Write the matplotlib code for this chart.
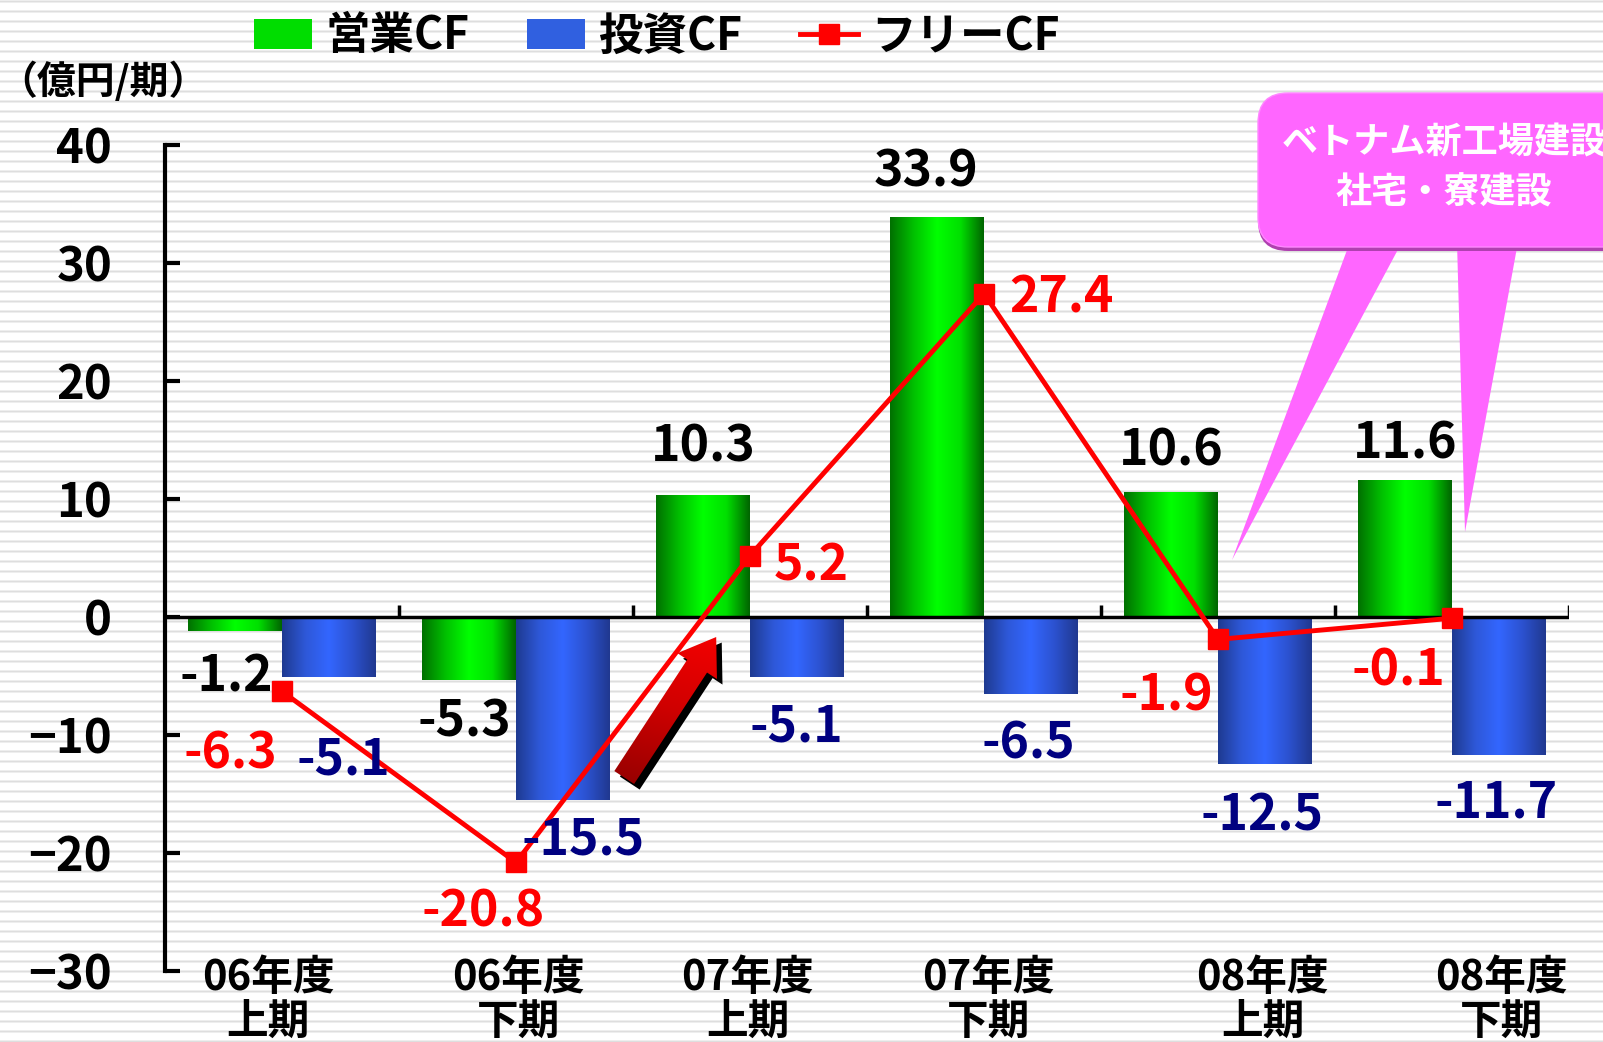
import numpy as np
import matplotlib
matplotlib.use('Agg')
import matplotlib.pyplot as plt
from matplotlib.colors import LinearSegmentedColormap
from matplotlib.patches import Patch, FancyBboxPatch, Polygon, FancyArrowPatch
from matplotlib.lines import Line2D
import matplotlib.patheffects as pe

plt.rcParams['font.family'] = ['Noto Sans CJK JP', 'DejaVu Sans']
plt.rcParams['font.weight'] = 'bold'

# data
periods_top = ['06年度', '06年度', '07年度', '07年度', '08年度', '08年度']
periods_bottom = ['上期', '下期', '上期', '下期', '上期', '下期']
eigyo_cf = [-1.2, -5.3, 10.3, 33.9, 10.6, 11.6]
toshi_cf = [-5.1, -15.5, -5.1, -6.5, -12.5, -11.7]
free_cf = [-6.3, -20.8, 5.2, 27.4, -1.9, -0.1]

# label nudges (data units)
eigyo_off = [(-0.04, -3.9), (-0.02, -3.6), (0.0, 4.1), (-0.05, 3.8), (0.0, 3.5), (0.0, 3.1)]
toshi_off = [(0.06, -7.0), (0.085, -3.4), (0.0, -4.2), (-0.01, -4.3), (-0.01, -4.4), (-0.01, -4.1)]
free_off = [(-0.22, -5.35), (-0.14, -4.16), (0.26, -0.85), (0.33, -0.36), (-0.22, -4.8), (-0.23, -4.5)]
cat_label_off = [-0.06, 0.01, -0.01, 0.02, 0.19, 0.21]

x = np.arange(len(eigyo_cf))
W, H = 1603, 1042
fig = plt.figure(figsize=(W / 100, H / 100), dpi=100)
fig.patch.set_facecolor('white')

# striped background
rows = np.arange(H) % 10
shade = np.ones(H)
shade[rows == 0] = 0.93
shade[rows == 1] = 0.87
shade[rows == 2] = 0.93
bg = np.repeat(shade[:, None], W, axis=1)
fig.figimage(bg, xo=0, yo=0, cmap='gray', vmin=0, vmax=1, zorder=-1)

ax = fig.add_axes([165 / W, 71 / H, (1569 - 165) / W, (971 - 145) / H])
ax.set_facecolor('none')
ax.set_zorder(1)

green_cmap = LinearSegmentedColormap.from_list('g', ['#007000', '#00c000', '#00ff00', '#00e000', '#006400'])
blue_cmap = LinearSegmentedColormap.from_list('b', ['#1e3a90', '#2e58d8', '#3366ff', '#2c52d0', '#20388f'])
red_cmap = LinearSegmentedColormap.from_list('r', ['#8a0000', '#d00000', '#ff0000'])
grad = np.linspace(0, 1, 256)[None, :]


def gradient_bars(bars, cmap):
    for b in bars:
        bx, by = b.get_xy()
        bw, bh = b.get_width(), b.get_height()
        im = ax.imshow(grad, extent=[bx, bx + bw, by, by + bh], aspect='auto',
                       cmap=cmap, interpolation='bicubic', zorder=2)
        im.set_clip_path(b)
        b.set_facecolor('none')


w = 0.4
bars_g = ax.bar(x - w / 2, eigyo_cf, w, color='#00dd00', zorder=2, linewidth=0)
bars_b = ax.bar(x + w / 2, toshi_cf, w, color='#3060e0', zorder=2, linewidth=0)
gradient_bars(bars_g, green_cmap)
gradient_bars(bars_b, blue_cmap)

ax.plot(x, free_cf, color='#ff0000', lw=3.5, marker='s', markersize=14, zorder=5)

ax.axhline(0, color='black', lw=2.5, zorder=4)
ax.vlines(np.arange(len(x)) + 0.5, 0, 1.0, color='black', lw=2.5, zorder=4)

ax.set_xlim(-0.5, 5.5)
ax.set_ylim(-30, 40)
ax.set_yticks(np.arange(-30, 41, 10))
ax.tick_params(axis='y', direction='in', length=11, width=3, pad=38, labelsize=34)
ax.set_xticks([])
for s in ['top', 'right', 'bottom']:
    ax.spines[s].set_visible(False)
ax.spines['left'].set_linewidth(3)

for i in x:
    ax.text(i - w / 2 + eigyo_off[i][0], eigyo_cf[i] + eigyo_off[i][1], f'{eigyo_cf[i]:.1f}',
            ha='center', va='center', fontsize=36, color='black', zorder=6)
    ax.text(i + w / 2 + toshi_off[i][0], toshi_cf[i] + toshi_off[i][1], f'{toshi_cf[i]:.1f}',
            ha='center', va='center', fontsize=36, color='#000080', zorder=6)
    ax.text(i + free_off[i][0], free_cf[i] + free_off[i][1], f'{free_cf[i]:.1f}',
            ha='center', va='center', fontsize=36, color='#ff0000', zorder=6)
    ax.text(i + cat_label_off[i], -30.6, periods_top[i], ha='center', va='center',
            fontsize=30, clip_on=False)
    ax.text(i + cat_label_off[i], -34.3, periods_bottom[i], ha='center', va='center',
            fontsize=30, clip_on=False)

# up arrow with dark-to-bright red gradient and black shadow
arr = FancyArrowPatch((1.456, -13.8), (1.862, -1.5),
                      arrowstyle='simple,head_length=1.25,head_width=1.7,tail_width=0.85',
                      mutation_scale=20, facecolor='none', edgecolor='none', zorder=6,
                      path_effects=[pe.withSimplePatchShadow(offset=(4, -4), shadow_rgbFace='black', alpha=1), pe.Normal()])
ax.add_patch(arr)
gy, gx = np.mgrid[0:1:100j, 0:1:100j]
arr_grad = 0.8 * gy + 0.2 * gx
arr_im = ax.imshow(arr_grad, extent=[1.3, 2.0, -15.0, 0.0], origin='lower', aspect='auto',
                   cmap=red_cmap, interpolation='bicubic', zorder=6.5)
arr_im.set_clip_path(arr)
ax.set_xlim(-0.5, 5.5)
ax.set_ylim(-30, 40)

# legend
handles = [Patch(facecolor='#00dd00'), Patch(facecolor='#3060e0'),
           Line2D([], [], color='#ff0000', lw=3.5, marker='s', markersize=14)]
fig.legend(handles, ['営業CF', '投資CF', 'フリーCF'], loc='center', bbox_to_anchor=(0.41, 0.965),
           ncol=3, frameon=False, prop={'size': 32, 'weight': 'bold'}, handlelength=1.3,
           handleheight=0.65, handletextpad=0.3, columnspacing=1.3)

fig.text(-0.02, 9.60, '（億円/期）', transform=fig.dpi_scale_trans, ha='left', va='center', fontsize=28)

# callout
t = fig.dpi_scale_trans
for pts in [[(13.50, 8.0), (14.02, 8.0), (12.32, 4.82)], [(14.57, 8.0), (15.18, 8.0), (14.65, 5.10)]]:
    fig.add_artist(Polygon(pts, closed=True, transform=t, facecolor='#ff66ff', edgecolor='none', zorder=7))
fig.add_artist(FancyBboxPatch((12.58, 7.91), 3.8, 1.54, boxstyle='round,pad=0,rounding_size=0.3',
                              transform=t, facecolor='#b040b0', edgecolor='none', zorder=7))
fig.add_artist(FancyBboxPatch((12.58, 7.95), 3.8, 1.54, boxstyle='round,pad=0,rounding_size=0.3',
                              transform=t, facecolor='#ff66ff', edgecolor='#ff88ff', lw=1, zorder=7))
fig.text(14.44, 8.99, 'ベトナム新工場建設', transform=t, ha='center', va='center', fontsize=26,
         color='white', zorder=8)
fig.text(14.44, 8.49, '社宅・寮建設', transform=t, ha='center', va='center', fontsize=26,
         color='white', zorder=8)

fig.savefig('out.png', dpi=100)
